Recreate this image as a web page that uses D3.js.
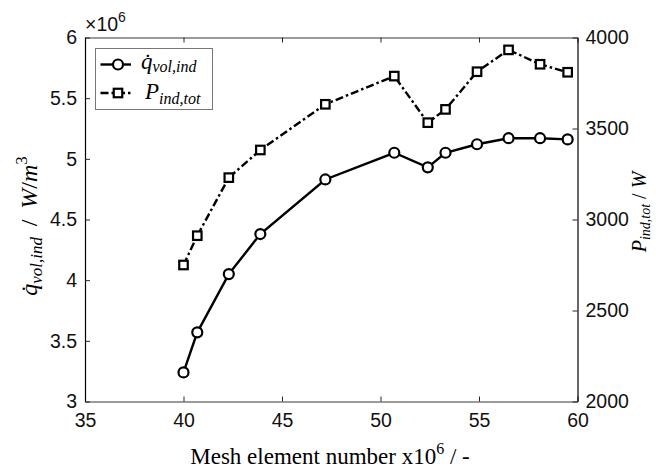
<!DOCTYPE html>
<html><head><meta charset="utf-8">
<script src="https://cdn.jsdelivr.net/npm/d3@7"></script>
<style>body{margin:0;background:#fff}svg{display:block}</style>
</head><body>
<svg id="c" width="656" height="468"></svg>
<script>
const meshX = [40.0, 40.7, 42.3, 43.9, 47.2, 50.7, 52.4, 53.3, 54.9, 56.5, 58.1, 59.5];
const qVol = [3.24, 3.57, 4.05, 4.38, 4.83, 5.05, 4.93, 5.05, 5.12, 5.17, 5.17, 5.16];
const pInd = [2750, 2911, 3230, 3382, 3633, 3788, 3532, 3605, 3812, 3932, 3853, 3809];
const xTicks = [35, 40, 45, 50, 55, 60];
const yLeftTicks = [3, 3.5, 4, 4.5, 5, 5.5, 6];
const yRightTicks = [2000, 2500, 3000, 3500, 4000];

const svg = d3.select("#c");
const L = 85, R = 577.5, T = 37.5, B = 401.5;
const x = d3.scaleLinear().domain([35, 60]).range([L, R]);
const yl = d3.scaleLinear().domain([3, 6]).range([B, T]);
const yr = d3.scaleLinear().domain([2000, 4000]).range([B, T]);
const axCol = "#262626";
const tickFont = "'Liberation Sans', Arial, sans-serif";
const serif = "'Liberation Serif', 'Times New Roman', serif";
const TF = 19.5;

// axes with inward ticks
const gx = svg.append("g").attr("transform", `translate(0,${B})`)
  .call(d3.axisBottom(x).tickValues(xTicks).tickSizeInner(-5).tickSizeOuter(0).tickPadding(12).tickFormat(d3.format("d")));
const gxt = svg.append("g").attr("transform", `translate(0,${T})`)
  .call(d3.axisTop(x).tickValues(xTicks).tickSizeInner(-5).tickSizeOuter(0).tickFormat(""));
const gyl = svg.append("g").attr("transform", `translate(${L},0)`)
  .call(d3.axisLeft(yl).tickValues(yLeftTicks).tickSizeInner(-5).tickSizeOuter(0).tickPadding(8).tickFormat(d => d3.format("")(d)));
const gyr = svg.append("g").attr("transform", `translate(${R},0)`)
  .call(d3.axisRight(yr).tickValues(yRightTicks).tickSizeInner(-5).tickSizeOuter(0).tickPadding(8).tickFormat(d3.format("d")));
[gx, gxt, gyl, gyr].forEach(g => {
  g.selectAll(".tick line").attr("stroke", axCol);
  g.selectAll(".tick text").attr("fill", "#111").attr("font-family", tickFont).attr("font-size", TF);
});
[gx, gxt].forEach(g => g.select(".domain").attr("stroke", "#7a7a7a").attr("stroke-width", 1.4));
gyl.select(".domain").attr("stroke", "#000").attr("stroke-width", 1.2);
gyr.select(".domain").attr("stroke", "#000").attr("stroke-width", 1.2);

// exponent
const ex = svg.append("text").attr("x", 85).attr("y", 31).attr("font-family", tickFont).attr("font-size", TF).attr("fill", "#111");
ex.append("tspan").text("×10");
ex.append("tspan").attr("dy", -9).attr("font-size", 14).text("6");

// x label
const xl = svg.append("text").attr("x", 330).attr("y", 464).attr("text-anchor", "middle")
  .attr("font-family", serif).attr("font-size", 23).attr("fill", "#000");
xl.append("tspan").text("Mesh element number x10");
xl.append("tspan").attr("dy", -10).attr("font-size", 16).text("6");
xl.append("tspan").attr("dy", 10).text(" / -");

// left y label
const yL = svg.append("text").attr("transform", "translate(37,226) rotate(-90)").attr("text-anchor", "middle")
  .attr("font-family", serif).attr("font-size", 24).attr("fill", "#000");
yL.append("tspan").attr("font-style", "italic").text("q\u0307");
yL.append("tspan").attr("font-style", "italic").attr("font-size", 17).attr("dy", 5).text("vol,ind");
yL.append("tspan").attr("dy", -5).text("\u2009 / \u2009");
yL.append("tspan").attr("font-style", "italic").text("W");
yL.append("tspan").text("/");
yL.append("tspan").attr("font-style", "italic").text("m");
yL.append("tspan").attr("dy", -10).attr("font-size", 17).text("3");

// right y label
const yR = svg.append("text").attr("transform", "translate(646,212) rotate(-90)").attr("text-anchor", "middle")
  .attr("font-family", serif).attr("font-size", 20).attr("fill", "#000");
yR.append("tspan").attr("font-style", "italic").text("P");
yR.append("tspan").attr("font-style", "italic").attr("font-size", 14).attr("dy", 3.5).text("ind,tot");
yR.append("tspan").attr("dy", -3.5).text(" / ");
yR.append("tspan").attr("font-style", "italic").text("W");

// lines
const data = meshX.map((m, i) => ({m, q: qVol[i], p: pInd[i]}));
const dash = "8,3,2.5,3";
const LW = 2.4;
svg.append("path").datum(data).attr("fill", "none").attr("stroke", "#000").attr("stroke-width", LW)
  .attr("d", d3.line().x(d => x(d.m)).y(d => yl(d.q)));
svg.append("path").datum(data).attr("fill", "none").attr("stroke", "#000").attr("stroke-width", LW)
  .attr("stroke-dasharray", dash)
  .attr("d", d3.line().x(d => x(d.m)).y(d => yr(d.p)));
svg.selectAll("circle.q").data(data).join("circle").attr("class", "q")
  .attr("cx", d => x(d.m)).attr("cy", d => yl(d.q)).attr("r", 5)
  .attr("fill", "#fff").attr("stroke", "#000").attr("stroke-width", 2.2);
svg.selectAll("rect.p").data(data).join("rect").attr("class", "p")
  .attr("x", d => x(d.m) - 4.25).attr("y", d => yr(d.p) - 4.25).attr("width", 8.5).attr("height", 8.5)
  .attr("fill", "#fff").attr("stroke", "#000").attr("stroke-width", 2.2);

// legend
const lg = svg.append("g");
lg.append("rect").attr("x", 95.5).attr("y", 48.5).attr("width", 117).attr("height", 61)
  .attr("fill", "#fff").attr("stroke", "#777").attr("stroke-width", 1);
const rows = [{y: 64.5, dash: null, mk: "c"}, {y: 93, dash: dash, mk: "s"}];
rows.forEach(r => {
  const ln = lg.append("line").attr("x1", 100.5).attr("x2", 131).attr("y1", r.y).attr("y2", r.y)
    .attr("stroke", "#000").attr("stroke-width", LW);
  if (r.dash) ln.attr("stroke-dasharray", r.dash);
  if (r.mk === "c") lg.append("circle").attr("cx", 118).attr("cy", r.y).attr("r", 5).attr("fill", "#fff").attr("stroke", "#000").attr("stroke-width", 2.2);
  else lg.append("rect").attr("x", 113.75).attr("y", r.y - 4.25).attr("width", 8.5).attr("height", 8.5).attr("fill", "#fff").attr("stroke", "#000").attr("stroke-width", 2.2);
});
const t1 = lg.append("text").attr("x", 141).attr("y", 69).attr("font-family", serif).attr("font-size", 23).attr("font-style", "italic");
t1.append("tspan").text("q\u0307");
t1.append("tspan").attr("font-size", 16).attr("dy", 3).text("vol,ind");
const t2 = lg.append("text").attr("x", 145).attr("y", 99).attr("font-family", serif).attr("font-size", 23).attr("font-style", "italic");
t2.append("tspan").text("P");
t2.append("tspan").attr("font-size", 16).attr("dy", 5).text("ind,tot");
</script>
</body></html>
